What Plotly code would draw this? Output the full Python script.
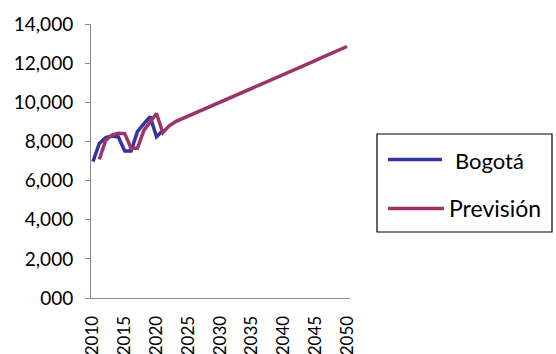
import plotly.graph_objects as go

years_bogota = list(range(2010, 2022))
bogota = [6970, 7900, 8200, 8280, 8230, 7510, 7510, 8500, 8900, 9270, 8240, 8560]

years_prev = list(range(2011, 2051))
prevision = [7080, 8050, 8330, 8420, 8400, 7650, 7650, 8550, 9000, 9430,
             8450, 8800, 9010, 9150, 9290, 9440, 9580, 9720, 9860, 10000,
             10150, 10290, 10430, 10570, 10710, 10860, 11000, 11140, 11280, 11420,
             11570, 11710, 11850, 11990, 12130, 12280, 12420, 12560, 12700, 12850]

y_ticks = [0, 2000, 4000, 6000, 8000, 10000, 12000, 14000]
y_tick_text = ["000", "2,000", "4,000", "6,000", "8,000", "10,000", "12,000", "14,000"]
x_ticks = [2010, 2015, 2020, 2025, 2030, 2035, 2040, 2045, 2050]

BLUE = "#3535A0"
MAG = "#9B3468"
FONT = "Lato, 'Open Sans', sans-serif"

W, H = 556, 354
L, R, T, B = 91, 206, 24, 56
pw, ph = W - L - R, H - T - B

def px(x):
    return (x - L) / pw

def py(y):
    return (H - B - y) / ph

fig = go.Figure()
fig.add_trace(go.Scatter(x=years_bogota, y=bogota, mode="lines", name="Bogotá",
                         line=dict(color=BLUE, width=3.5), showlegend=False))
fig.add_trace(go.Scatter(x=years_prev, y=prevision, mode="lines", name="Previsión",
                         line=dict(color=MAG, width=3.5), showlegend=False))

shapes = [
    dict(type="rect", xref="paper", yref="paper", x0=px(377), x1=px(552), y0=py(134), y1=py(232),
         line=dict(color="#000000", width=1.2), fillcolor="rgba(0,0,0,0)"),
    dict(type="line", xref="paper", yref="paper", x0=px(388), x1=px(442), y0=py(159.5), y1=py(159.5),
         line=dict(color=BLUE, width=3.5)),
    dict(type="line", xref="paper", yref="paper", x0=px(388), x1=px(444), y0=py(208.5), y1=py(208.5),
         line=dict(color=MAG, width=3.5)),
]
annotations = [
    dict(text="Bogotá", xref="paper", yref="paper", x=px(453), y=py(160), xanchor="left", yanchor="middle",
         showarrow=False, font=dict(family=FONT, size=22, color="#000000")),
    dict(text="Previsión", xref="paper", yref="paper", x=px(447), y=py(208), xanchor="left", yanchor="middle",
         showarrow=False, font=dict(family=FONT, size=23, color="#000000")),
]

fig.update_layout(
    width=W, height=H,
    margin=dict(l=L, r=R, t=T, b=B, pad=0, autoexpand=False),
    paper_bgcolor="white", plot_bgcolor="white",
    font=dict(family=FONT, size=19, color="#000000"),
    shapes=shapes, annotations=annotations,
    showlegend=False,
)
fig.update_xaxes(range=[2009.69, 2050.47], tickvals=x_ticks, tickangle=-90, automargin=False,
                 showgrid=False, zeroline=False, showline=True, linecolor="#8A8A8A", linewidth=1,
                 ticks="", ticklabelstandoff=10, tickfont=dict(family=FONT, size=17))
fig.update_yaxes(range=[0, 14000], tickvals=y_ticks, ticktext=y_tick_text, automargin=False,
                 showgrid=False, zeroline=False, showline=True, linecolor="#8A8A8A", linewidth=1,
                 ticks="outside", ticklen=5, tickcolor="#8A8A8A", ticklabelstandoff=8,
                 tickfont=dict(family=FONT, size=19))

fig.write_html("out.html")
